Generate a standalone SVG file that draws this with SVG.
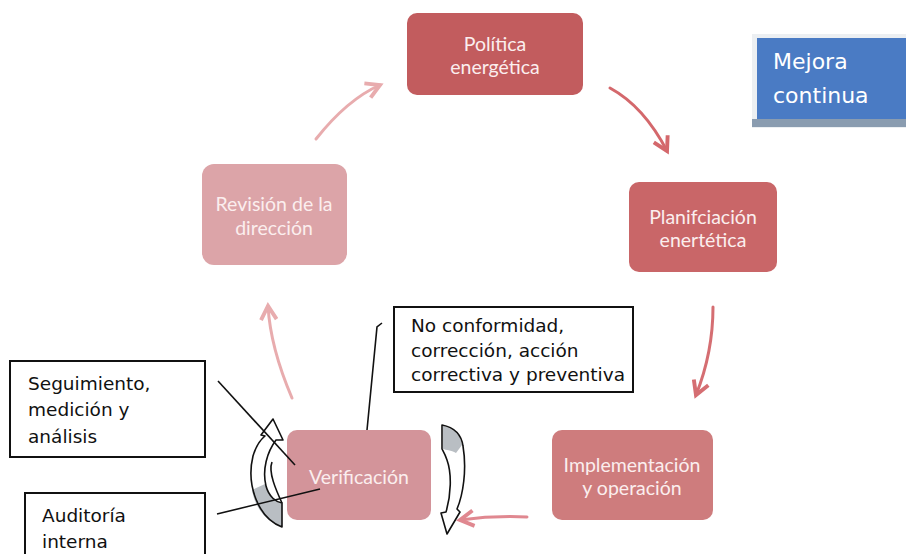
<svg xmlns="http://www.w3.org/2000/svg" width="906" height="554" viewBox="0 0 906 554">
<style>
.nt{font-family:Lato,"Open Sans","Liberation Sans",sans-serif;font-size:19.5px;fill:#fbeeee;text-anchor:middle}
.bt{font-family:"DejaVu Sans","Liberation Sans",sans-serif;font-size:18.5px;fill:#111}
.bx{fill:#fff;stroke:#111;stroke-width:2}
.cy{fill:none;stroke-width:3;stroke-linecap:round}
.ln{fill:none;stroke:#111;stroke-width:1.6}
.ca{fill:none;stroke:#111;stroke-width:1.6;stroke-linejoin:round}
.cw{fill:#fff;stroke:none}
.cg{fill:#b9bec3;stroke:none}
</style>
<defs>
<marker id="m1" viewBox="0 0 10 10" refX="8" refY="5" markerWidth="6.5" markerHeight="6.5" orient="auto"><path d="M1,1 L8,5 L1,9" fill="none" stroke="#d4686c" stroke-width="2"/></marker>
<marker id="m2" viewBox="0 0 10 10" refX="8" refY="5" markerWidth="6.5" markerHeight="6.5" orient="auto"><path d="M1,1 L8,5 L1,9" fill="none" stroke="#d56e72" stroke-width="2"/></marker>
<marker id="m3" viewBox="0 0 10 10" refX="8" refY="5" markerWidth="6.5" markerHeight="6.5" orient="auto"><path d="M1,1 L8,5 L1,9" fill="none" stroke="#e08890" stroke-width="2"/></marker>
<marker id="m4" viewBox="0 0 10 10" refX="8" refY="5" markerWidth="6.5" markerHeight="6.5" orient="auto"><path d="M1,1 L8,5 L1,9" fill="none" stroke="#e8acae" stroke-width="2"/></marker>
</defs>
<rect width="906" height="554" fill="#fff"/>

<g id="mejora">
<rect x="752" y="34" width="160" height="94" fill="#eceff2"/>
<rect x="757" y="38" width="155" height="81" fill="#4a7bc4"/>
<rect x="752" y="119" width="160" height="8" fill="#8a9cb0"/>
<text x="773" y="69" font-family="'DejaVu Sans','Liberation Sans',sans-serif" font-size="22" fill="#fff">Mejora</text>
<text x="773" y="103" font-family="'DejaVu Sans','Liberation Sans',sans-serif" font-size="22" fill="#fff">continua</text>
</g>

<g id="politica">
<rect x="407" y="13" width="176" height="82" rx="10" fill="#c25c5e"/>
<text class="nt" x="495" y="51">Política</text>
<text class="nt" x="495" y="74">energética</text>
</g>

<g id="planificacion">
<rect x="629" y="182" width="148" height="90" rx="10" fill="#c96668"/>
<text class="nt" x="703" y="224">Planifciación</text>
<text class="nt" x="703" y="247">enertética</text>
</g>

<g id="implementacion">
<rect x="552" y="430" width="161" height="90" rx="10" fill="#ce7c7d"/>
<text class="nt" x="632" y="472">Implementación</text>
<text class="nt" x="632" y="495">y operación</text>
</g>

<g id="verificacion">
<rect x="287" y="430" width="144" height="90" rx="10" fill="#d3949a"/>
<text class="nt" x="359" y="484">Verificación</text>
</g>

<g id="revision">
<rect x="202" y="164" width="145" height="101" rx="12" fill="#dca4a8"/>
<text class="nt" x="274" y="211">Revisión de la</text>
<text class="nt" x="274" y="235">dirección</text>
</g>

<g id="noconformidad">
<rect class="bx" x="394" y="307" width="239" height="85"/>
<text class="bt" x="411" y="332" font-size="15.5">No conformidad,</text>
<text class="bt" x="411" y="357" font-size="15.5">corrección, acción</text>
<text class="bt" x="411" y="381" font-size="15.5">correctiva y preventiva</text>
</g>

<g id="seguimiento">
<rect class="bx" x="10" y="361" width="195" height="96"/>
<text class="bt" x="28" y="390">Seguimiento,</text>
<text class="bt" x="28" y="416">medición y</text>
<text class="bt" x="28" y="443">análisis</text>
</g>

<g id="auditoria">
<rect class="bx" x="25" y="493" width="180" height="70"/>
<text class="bt" x="42" y="522">Auditoría</text>
<text class="bt" x="42" y="548">interna</text>
</g>

<g id="ciclos">
<path class="cw" d="M282,527 C258,518 246,485 253,456 C256,446 260,440 265,436 L261,435 L273,419 L283,440 L276,440 C267,452 262,470 266,486 C269,497 276,502 282,503 Z"/>
<path class="cg" d="M282,527 C264,520 255,507 252,490 L265,484 C268,496 275,502 282,503 Z"/>
<path class="ca" d="M282,527 C258,518 246,485 253,456 C256,446 260,440 265,436 L261,435 L273,419 L283,440 L276,440 C267,452 262,470 266,486 C269,497 276,502 282,503 Z"/>
<path class="ca" d="M282,503 C276,490 268,472 272,462"/>
<path class="cw" d="M442,425 C452,427 461,432 463,446 C467,470 463,495 457,509 L460,512 L447,534 L441,513 L446,512 C451,495 452,474 447,460 C445,454 443,451 442,449 Z"/>
<path class="cg" d="M443,426 C452,428 460,433 462,445 L456,453 C451,450 446,450 443,449 Z"/>
<path class="ca" d="M442,425 C452,427 461,432 463,446 C467,470 463,495 457,509 L460,512 L447,534 L441,513 L446,512 C451,495 452,474 447,460 C445,454 443,451 442,449 Z"/>
</g>

<g id="connectors">
<path class="cy" stroke="#d4686c" marker-end="url(#m1)" d="M610,88 C632,100 652,122 667,151"/>
<path class="cy" stroke="#d56e72" marker-end="url(#m2)" d="M713,307 C713,340 706,370 696,395"/>
<path class="cy" stroke="#e08890" marker-end="url(#m3)" d="M527,517 C505,516 482,517 460,520"/>
<path class="cy" stroke="#e8acae" marker-end="url(#m4)" d="M292,398 C280,370 270,340 268,306"/>
<path class="cy" stroke="#e8acae" marker-end="url(#m4)" d="M316,139 C335,115 355,96 380,85"/>
<path class="ln" d="M218,381 L295,465"/>
<path class="ln" d="M217,514 L320,489"/>
<path class="ln" d="M367,430 L377,327 L382,323"/>
</g>
</svg>
